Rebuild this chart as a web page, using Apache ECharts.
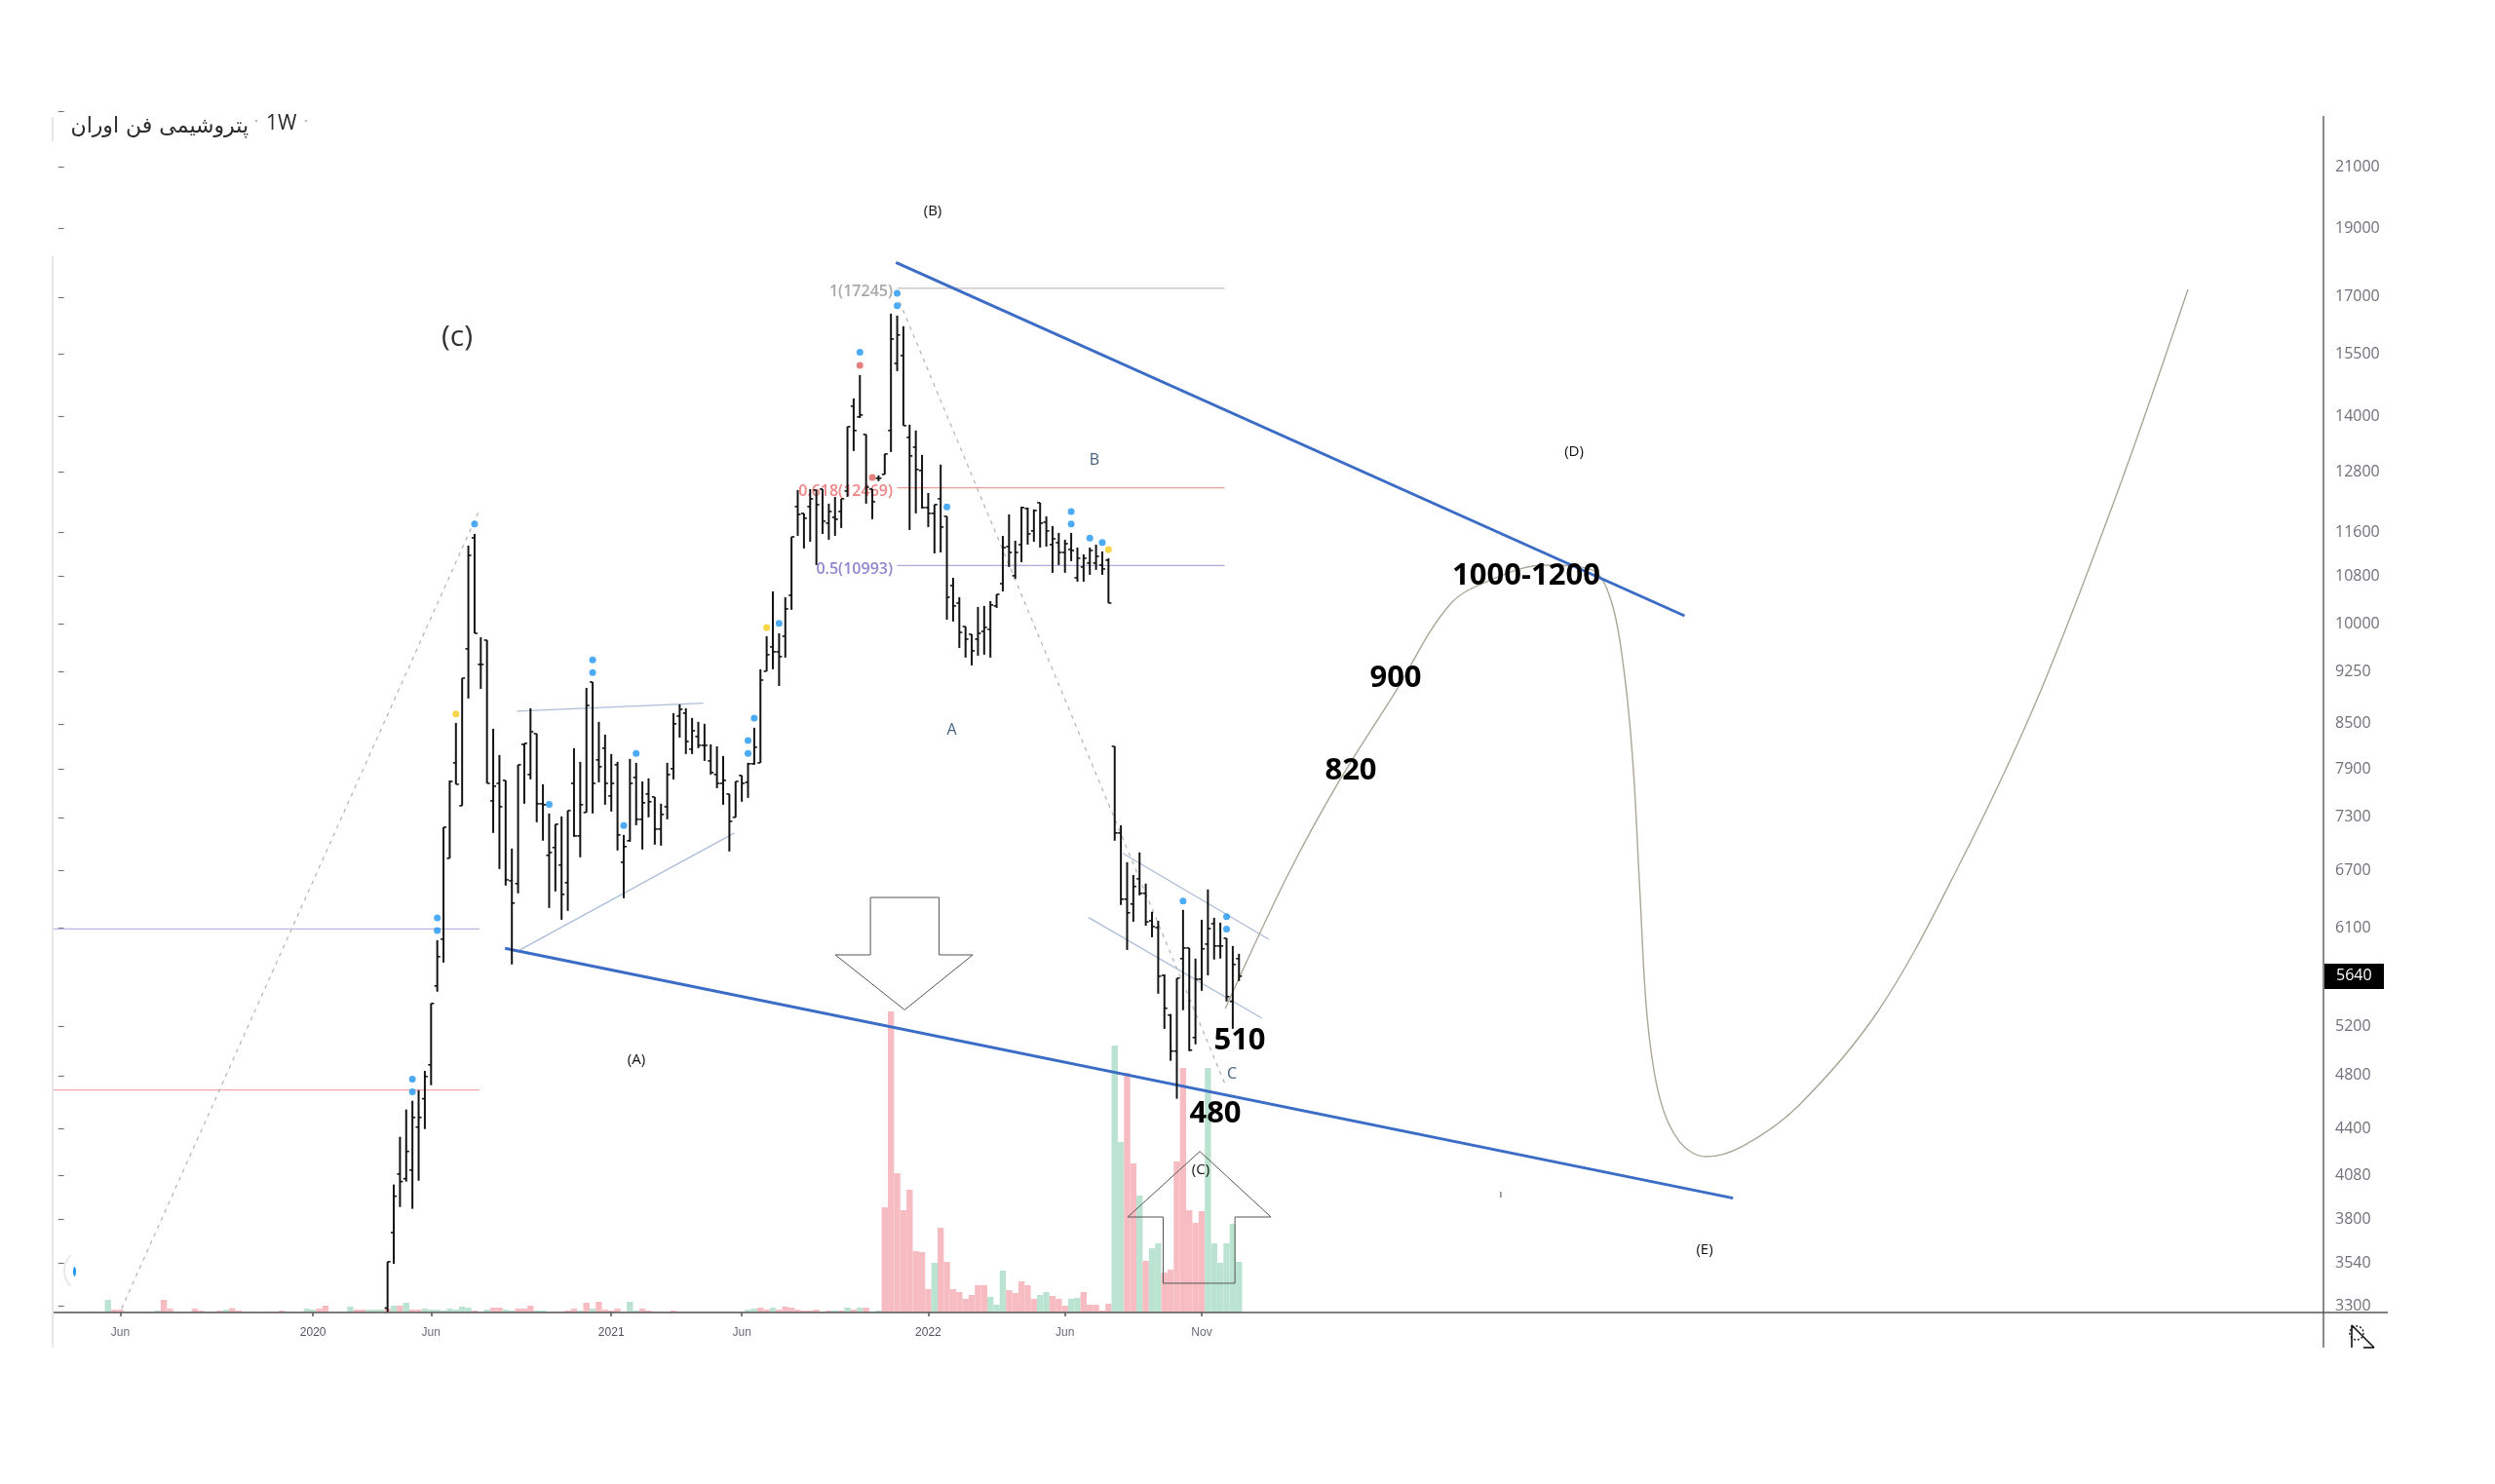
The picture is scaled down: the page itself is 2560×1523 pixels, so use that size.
<!DOCTYPE html>
<html><head><meta charset="utf-8">
<style>html,body{margin:0;padding:0;background:#fff}#c{width:2560px;height:1523px}</style>
<script src="https://cdn.jsdelivr.net/npm/echarts@6/dist/echarts.min.js"></script>
</head><body><div id="c"></div>
<script>
// --- weekly price bars (first bar sits in week slot 53) ---
const firstBarSlot = 53;
const openVals = [3290,3719,4090,4059,4116,4414,4622,4884,5552,5990,6831,7977,7440,9600,11498,9360,9737,7499,7716,7753,6586,6556,8220,7827,8364,7464,6864,6951,6756,6566,7716,7084,7359,9096,8015,8169,7559,7952,6788,7029,7790,7277,7583,7547,7163,7428,7902,8607,8648,8156,8325,8207,8002,7827,7716,7583,7301,7815,7728,7965,7977,9257,9630,9554,9799,10473,12096,11963,12096,12425,12445,11775,11887,12000,12406,14239,13993,13600,12445,12666,12746,13687,15264,15460,13534,13322,12827,12077,11963,12250,11906,10639,10341,9955,9830,9752,9876,9908,10293,10673,11335,10810,11371,12058,11627,12172,11794,11371,11407,11228,11282,10775,10965,11035,11035,11000,11087,8194,7118,6392,6342,6607,6453,6172,6104,5648,5295,4994,5804,5905,5105,5613,5942,6143,5924,5999,5413,5804];
const highVals = [3547,4021,4345,4542,4607,4687,4836,5396,5980,7185,7753,8512,9154,11353,11571,9783,9737,8431,8079,7753,6940,7952,8233,8716,8364,7704,7347,7220,7312,7382,8169,7990,9010,9096,8526,8351,8092,7990,7095,8028,7977,7740,7778,7547,7464,7977,8648,8771,8716,8580,8526,8499,8220,8194,8066,7583,7740,7815,7977,8445,9286,9799,10539,9845,10440,11516,12425,11963,12445,12425,12445,12153,12288,12250,13774,14420,14978,13600,12445,12726,13176,16549,16497,16213,13817,13687,13155,12366,12134,12950,11906,10775,10440,9955,9830,10276,10293,10374,10489,11534,11944,11443,12096,12077,12039,12172,11906,11719,11590,11462,11590,11317,11193,11317,11371,11246,11122,8194,7208,6788,6648,6896,6556,6262,6172,5657,5304,5622,6282,5905,5804,6182,6494,6202,6153,5999,5924,5849];
const lowVals = [3266,3535,3877,4040,3865,4046,4400,4725,5500,5767,6831,7704,7440,8855,9845,8996,7716,7118,6713,6535,5749,6453,7464,7765,7243,7029,6302,6473,6182,6272,7073,6842,7359,7347,7728,7452,7370,6918,6402,7018,7208,6929,7301,6984,6973,7277,7765,8311,8092,8092,8169,8002,7827,7655,7452,6907,7301,7488,7535,7952,7977,9257,9286,9039,9464,10228,11534,11300,11425,11000,11571,11462,11534,11682,12288,13238,13971,12153,11850,12605,12746,13217,15073,13795,11645,11963,12058,11700,11210,11228,10066,10035,9614,9464,9345,9494,9509,9464,10260,10539,10965,10758,11052,11371,11425,11317,11335,10862,11000,10862,11070,10707,10707,10827,10913,10827,10341,7029,6332,5886,6162,6432,6123,6009,5482,5178,4916,4622,5337,4994,5049,5508,5648,5795,5804,5413,5178,5596];
const closeVals = [3547,3945,4040,4243,4484,4484,4792,5396,5822,7185,7740,7704,9154,11175,9845,9360,7716,7680,7428,6597,6352,7952,8233,8391,7464,7452,6896,7220,6442,7382,7084,7452,8757,7716,7927,7716,7716,7095,6962,7716,7277,7476,7488,7163,7336,7827,8499,8702,8259,8404,8207,8207,7852,7716,7753,7254,7740,7716,7965,8182,9125,9509,9554,9479,10244,11516,11944,11869,12250,12134,11812,12000,11850,12250,13774,13687,14037,12484,12192,12666,13176,15880,15985,13795,13134,12847,12077,11963,12134,11700,10440,10293,9860,9752,9569,9845,9940,10309,10489,11317,11228,11228,12077,11571,12020,11775,11627,11480,11228,11389,11264,11122,11122,11264,11157,10930,10341,7118,6392,6252,6525,6453,6162,6114,5640,5354,4994,5622,5905,5002,5613,5896,6094,5924,5924,5456,5749,5640];

// --- weekly volume, slot 0 onwards, and its direction (u = up, d = down) ---
const volumeVals = [.5,.5,1,.5,.5,1,1,.5,13,3,3,1,.5,.5,1,1,2,13,4,1,1,1,4,2,1,1,2,3,4.5,2,1,.5,.5,.5,1,1,2,1,.5,1,4,3,4,7,1,1,.5,6,3,3,3,3,3,4,7,7,10,3,3,4,3,3,2,4,3,6,5,2,1,3,5,5,3,2,4,4,7,2,2,1,1,1,2,4,2,10,4,11,3,2,4,1,11,2,4,2,1,1,1,2,1,1,1,1,1,1,1,1,1,1,1,3,4,5,3,5,3,6,5,3,2,2,3,1,2,2,2,5,3,5,5,1,2,108,309,143,105,126,63,62,24,51,87,52,24,21,14,18,28,28,16,8,43,23,20,32,28,14,18,21,17,14,7,14,15,21,8,8,2,9,274,175,246,153,120,53,66,71,41,44,155,251,105,92,104,251,71,51,71,91,52];
const volumeDir = 'ddddddddudddddduuddduuddudduddddddddduuuuuddduuudduuudududduuuuuuuuddudduuddduuuddddududdddduuddduddduddduddduuuuddudddddddddudududuuddddddddudddddddduuuddddduuddduuddddduudduduuddddddduuuuuuuududuu'.split('');
// --- tick labels ---
const priceTicks = [3300,3540,3800,4080,4400,4800,5200,6100,6700,7300,7900,8500,9250,10000,10800,11600,12800,14000,15500,17000,19000,21000,23000];
const timeTickSlots = [10,41,60,89,110,140,162,184];
const timeTickLabels = ['Jun','2020','Jun','2021','Jun','2022','Jun','Nov'];
const yearLabels = ['2020','2021','2022'];
const slotCount = 365;
// --- marker dots: slot, price, kind ---
const dotSlots  = [57,57,61,61,64,67,79,86,86,91,93,111,111,112,114,116,129,129,131,135,135,143,163,163,166,168,169,181,188,188];
const dotPrices = [4771,4674,6201,6075,8637,11760,7456,9428,9236,7205,8100,8272,8100,8578,9939,10007,15540,15217,12683,17108,16760,12090,12000,11760,11492,11412,11282,6373,6214,6088];
const dotKinds  = ['b','b','b','b','y','b','b','b','b','b','b','b','b','b','y','b','b','r','r','b','b','b','b','b','b','b','y','b','b','b'];
// --- drawings: [week position, price] ---
const upperTrend = [[134.8,17983],[261.7,10129]];
const lowerTrend = [[71.9,5902],[269.5,3933]];
const fibOne = [[135,17245],[187.7,17245]];
const fibSix = [[135,12469],[187.7,12469]];
const fibHalf = [[135,10993],[187.7,10993]];
const levelPurple = [[-0.9,6090],[67.8,6090]];
const levelRed = [[-0.9,4689],[67.8,4689]];
const dashUp = [[10.2,3287],[67.8,12039]];
const dashDown = [[135.4,16867],[187.7,4740]];
const triTop = [[73.8,8674],[103.8,8789]];
const triBottom = [[74.3,5886],[108.8,7118]];
const chanUpper = [[171.3,6886],[194.8,5989]];
const chanLower = [[165.8,6204],[193.7,5268]];
const forecastCurve = [[187.8,5352],[197.7,6627],[206,7728],[214.9,8911],[224,10324],[231.4,10775],[239.1,10999],[246.8,10912],[249.9,10373],[251.9,9300],[253.4,7964],[254.5,6482],[255.7,5268],[257.7,4627],[260.9,4309],[265.1,4207],[271.1,4281],[280,4569],[292.9,5335],[305.7,6733],[318.4,8841],[331.3,12366],[342.7,17216]];
const arrowDown = [[130.7,6410],[141.75,6410],[141.75,5839],[147.16,5839],[136.2,5340],[125.05,5839],[130.7,5839],[130.7,6410]];
const arrowUp = [[183.7,4243],[195.15,3814],[189.35,3814],[189.35,3425],[177.8,3425],[177.8,3814],[172.1,3814],[183.7,4243]];

const LAT = '"Open Sans","Noto Sans",sans-serif';
const chart = echarts.init(document.getElementById('c'));
const gridL = 56.5, gridW = 2327.5, gridT = 100, gridH = 1247, axisX = 2384;
const weeks = Array.from({length: slotCount}, (_, i) => String(i));
const labelAt = {}; timeTickSlots.forEach((s, k) => labelAt[s] = timeTickLabels[k]);
const dotColor = {b:'#2196f3', y:'#f6c91c', r:'#e0605f'};

function drawing(name, data, color, width, extra) {
  return Object.assign({name, type:'line', xAxisIndex:1, yAxisIndex:0, data, showSymbol:false, symbol:'none', silent:true, clip:false, z:3, animation:false,
    lineStyle:{color, width, type:(extra&&extra.dash)||'solid'}}, extra&&extra.smooth?{smooth:extra.smooth}:{});
}
function txt(text, x, y, size, color, opt) {
  opt = opt || {};
  return {type:'text', x, y, z:opt.z==null?100:opt.z, silent:true,
    style:{text, fill:color, font:(opt.weight||'normal')+' '+size+'px '+(opt.family||LAT), align:opt.align||'center', verticalAlign:'middle'}};
}
function seg(x1,y1,x2,y2,stroke,lineWidth,z) {
  return {type:'line', silent:true, z:z==null?50:z, shape:{x1,y1,x2,y2}, style:{stroke,lineWidth}};
}
function renderBar(params, api) {
  const i = api.value(0);
  const x = api.coord([i, api.value(1)])[0];
  const yO = api.coord([i, api.value(1)])[1], yH = api.coord([i, api.value(2)])[1];
  const yL = api.coord([i, api.value(3)])[1], yC = api.coord([i, api.value(4)])[1];
  const s = {stroke:'#131313', lineWidth:2};
  return {type:'group', children:[
    {type:'line', shape:{x1:x,y1:yH,x2:x,y2:yL}, style:s},
    {type:'line', shape:{x1:x-3,y1:yO,x2:x,y2:yO}, style:{stroke:'#131313',lineWidth:1.6}},
    {type:'line', shape:{x1:x,y1:yC,x2:x+3,y2:yC}, style:{stroke:'#131313',lineWidth:1.6}}
  ]};
}
function renderTag(params, api) {
  const y = api.coord([api.value(0), api.value(1)])[1];
  const x = params.coordSys.x + params.coordSys.width;
  return {type:'group', children:[
    {type:'rect', shape:{x, y:y-13, width:62, height:26}, style:{fill:'#000'}},
    {type:'text', x:x+13, y, style:{text:String(api.value(1)), fill:'#fff', font:'16px '+LAT, align:'left', verticalAlign:'middle'}}
  ]};
}

chart.setOption({
  animation:false,
  backgroundColor:'#fff',
  grid:{left:gridL, top:gridT, width:gridW, height:gridH, containLabel:false},
  xAxis:[
    {type:'category', data:weeks, boundaryGap:true, axisLine:{show:false},
     axisTick:{show:true, alignWithLabel:true, length:4, interval:(i)=>labelAt[i]!==undefined, lineStyle:{color:'#555',width:1.5}},
     axisLabel:{interval:(i)=>labelAt[i]!==undefined, margin:15, hideOverlap:false,
       formatter:(v,i)=>{const t=labelAt[i]; return t===undefined?'':(yearLabels.includes(t)?'{y|'+t+'}':'{m|'+t+'}');},
       rich:{y:{font:'bold 17px '+LAT, color:'#50535e'}, m:{font:'16px '+LAT, color:'#6a6d78'}}},
     splitLine:{show:false}},
    {type:'value', min:-0.5, max:slotCount-0.5, show:false, splitLine:{show:false}}
  ],
  yAxis:[
    {type:'log', logBase:10, min:3266, max:23513, position:'right', axisLine:{show:false}, splitLine:{show:false}, minorTick:{show:false}, minorSplitLine:{show:false},
     axisTick:{show:true, length:6, customValues:priceTicks, lineStyle:{color:'#777',width:1.2}},
     axisLabel:{customValues:priceTicks, margin:12, color:'#6f7079', font:'16px '+LAT, fontFamily:LAT, fontSize:16, formatter:(v)=>String(Math.round(v)), showMinLabel:true, showMaxLabel:true, hideOverlap:false}},
    {type:'value', min:0, max:gridH, show:false, splitLine:{show:false}}
  ],
  series:[
    {name:'Volume', type:'bar', xAxisIndex:0, yAxisIndex:1, barCategoryGap:0, barGap:0, silent:true, z:1,
     data:volumeVals.map((v,i)=>({value:v, itemStyle:{color:volumeDir[i]==='u'?'#bbe3d1':'#f7bcc1'}}))},
    drawing('fib 1', fibOne, '#c4bcc0', 1.3),
    drawing('fib 0.618', fibSix, '#ef9a9a', 1.3),
    drawing('fib 0.5', fibHalf, '#b3a9e0', 1.3),
    drawing('level', levelPurple, '#b9b5e0', 1.3),
    drawing('level', levelRed, '#f2a9ab', 1.3),
    drawing('dash', dashUp, '#b2b2b2', 1.2, {dash:[4,5]}),
    drawing('dash', dashDown, '#b2b2b2', 1.2, {dash:[4,5]}),
    drawing('triangle', triTop, '#abbdd8', 1.3),
    drawing('triangle', triBottom, '#abbdd8', 1.3),
    {name:'Price', type:'custom', xAxisIndex:0, yAxisIndex:0, renderItem:renderBar, silent:true, z:4, clip:true,
     encode:{x:0,y:[1,2,3,4]},
     data:openVals.map((o,k)=>[firstBarSlot+k, o, highVals[k], lowVals[k], closeVals[k]])},
    drawing('channel', chanUpper, '#abbdd8', 1.3),
    drawing('channel', chanLower, '#abbdd8', 1.3),
    drawing('forecast', forecastCurve, '#aaa796', 1.4, {smooth:0.35}),
    drawing('trend', upperTrend, '#3b6cc6', 3),
    drawing('trend', lowerTrend, '#3b6cc6', 3),
    drawing('arrow', arrowDown, '#555', 1),
    drawing('arrow', arrowUp, '#555', 1),
    {name:'Signals', type:'scatter', xAxisIndex:0, yAxisIndex:0, symbolSize:7, silent:true, z:5,
     data:dotSlots.map((s,k)=>({value:[s,dotPrices[k]], itemStyle:{color:dotColor[dotKinds[k]]}}))},
    {name:'Last', type:'custom', xAxisIndex:0, yAxisIndex:0, renderItem:renderTag, silent:true, z:60, clip:false,
     encode:{x:0,y:1}, data:[[firstBarSlot+closeVals.length-1, closeVals[closeVals.length-1]]]}
  ],
  graphic:{elements:[
    {type:'rect', silent:true, z:80, shape:{x:2384,y:0,width:120,height:118}, style:{fill:'#fff'}},
    seg(axisX,119,axisX,1383,'#888',2,81),
    seg(54,1347,2450,1347,'#555',1.5,81),
    seg(54,120,54,145,'#e7e7e7',2,81),
    seg(54,263,54,1383,'#e7e7e7',2,81),
    // title
    txt('پتروشیمی فن اوران',255,130,22,'#2a2a2a',{align:'right',family:'"DejaVu Sans","Noto Sans",sans-serif'}),
    txt('1W',273,127,21,'#2a2a2a',{align:'left'}),
    {type:'circle',silent:true,shape:{cx:263,cy:124,r:1.3},style:{fill:'#bbb'}},
    {type:'circle',silent:true,shape:{cx:314,cy:124,r:1.3},style:{fill:'#bbb'}},
    // wave labels
    txt('(c)',469,346,30,'#333'),
    txt('(B)',957,217,15,'#111'),
    txt('(D)',1615,464,15,'#111'),
    txt('(E)',1749,1283,15,'#111'),
    txt('(A)',653,1088,15,'#111'),
    txt('(C)',1232,1201,15,'#111'),
    txt('A',976.5,749,16,'#45617f'),
    txt('B',1123,472,16,'#45617f'),
    txt('C',1264,1102,16,'#45617f'),
    txt('ı',1540,1226,11,'#333'),
    // fib labels
    txt('1(17245)',916,299,16,'#a8a8a8',{align:'right',weight:'600',z:0}),
    txt('0.618(12469)',916,504,16,'#ee8585',{align:'right',weight:'600',z:0}),
    txt('0.5(10993)',916,584,16,'#9485cf',{align:'right',weight:'600',z:0}),
    // big targets
    txt('1000-1200',1566,591,31,'#000',{weight:'bold'}),
    txt('900',1432,696,31,'#000',{weight:'bold'}),
    txt('820',1386,791,31,'#000',{weight:'bold'}),
    txt('510',1272,1068,31,'#000',{weight:'bold'}),
    txt('480',1247,1143,31,'#000',{weight:'bold'}),
    // small icons
    {type:'arc',silent:true,z:81,shape:{cx:88,cy:1304,r:22,startAngle:2.35,endAngle:3.95},style:{stroke:'#e4e4e4',fill:null,lineWidth:1.5}},
    {type:'ellipse',silent:true,z:81,shape:{cx:76.5,cy:1305,rx:1.5,ry:5},style:{fill:'#2196f3'}},
    {type:'circle',silent:true,z:81,shape:{cx:2418,cy:1368,r:7},style:{stroke:'#222',fill:null,lineWidth:1.5,lineDash:[2,2]}},
    seg(2413,1360,2413,1383,'#111',1.6,82),
    seg(2413,1360,2436,1383,'#111',1.6,82),
    seg(2425,1383,2436,1383,'#111',1.6,82)
  ]}
});
</script></body></html>
